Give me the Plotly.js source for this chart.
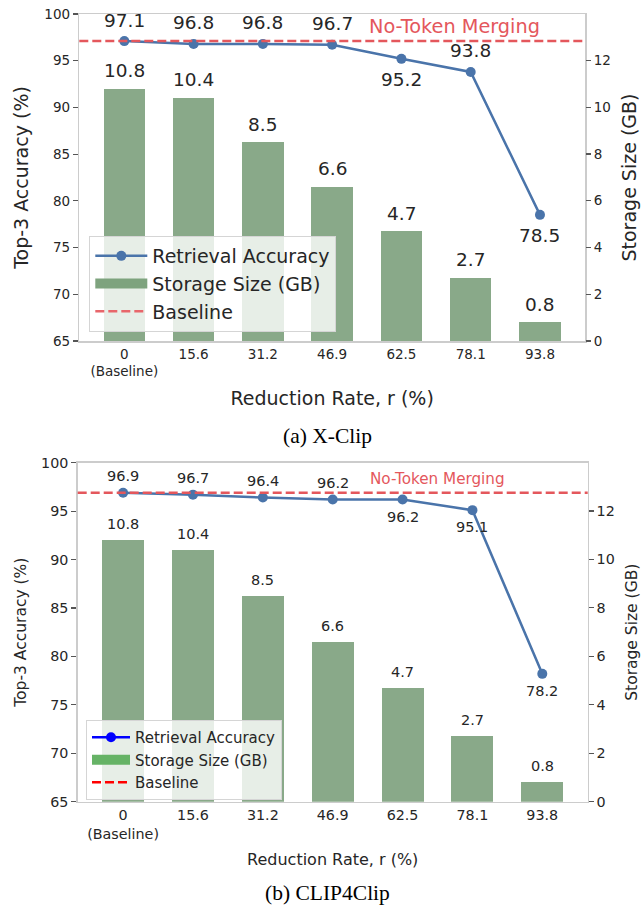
<!DOCTYPE html>
<html>
<head>
<meta charset="utf-8">
<script src="https://cdn.plot.ly/plotly-3.0.1.min.js"></script>
<style>
  html, body { margin: 0; padding: 0; background: #ffffff; }
  #chart { width: 641px; height: 909px; }
</style>
</head>
<body>
<div id="chart"></div>
<script>
// Reduction rate categories (x axis) and their tick labels
const reductionRates = ['0', '15.6', '31.2', '46.9', '62.5', '78.1', '93.8'];
const tickLabels = ['0<br>(Baseline)', '15.6', '31.2', '46.9', '62.5', '78.1', '93.8'];

// Storage size (GB) per reduction rate, same for both models
const storageGB = [10.8, 10.4, 8.5, 6.6, 4.7, 2.7, 0.8];

// Top-3 retrieval accuracy (%) per reduction rate
const accXClip = [97.1, 96.8, 96.8, 96.7, 95.2, 93.8, 78.5];
const accClip4Clip = [96.9, 96.7, 96.4, 96.2, 96.2, 95.1, 78.2];

// Accuracy without token merging
const baselineXClip = 97.1;
const baselineClip4Clip = 96.9;

const idx = reductionRates.map((_, i) => i);

const W = 641, H = 909;
const px = v => v / W;
const py = v => 1 - v / H;

const TEXT = '#262626';
const SPINE = '#cccccc';
const BAR = '#89a989';
const LINE = '#4a74aa';
const RED = '#e4575c';

// Per-panel drawing options
const panels = [
  {
    acc: accXClip, base: baselineXClip,
    xa: 'x', ya: 'y', yb: 'y2', legend: 'legend',
    labelFont: 18.5, noteFont: 19.3, barShift: 18, accShift: 21, noteShift: 15,
    below: [false, false, false, false, true, false, true],
    legendColors: { line: LINE, patch: '#7ea37e', dash: '#e8666b' }
  },
  {
    acc: accClip4Clip, base: baselineClip4Clip,
    xa: 'x2', ya: 'y3', yb: 'y4', legend: 'legend2',
    labelFont: 14.5, noteFont: 15.2, barShift: 16, accShift: 17, noteShift: 14,
    below: [false, false, false, false, true, true, true],
    legendColors: { line: '#0000ff', patch: '#66b366', dash: '#ff0000' }
  }
];

const traces = [];
const annotations = [];
const shapes = [];

panels.forEach(p => {
  // storage bars on the right-hand axis
  traces.push({
    type: 'bar', x: idx, y: storageGB, xaxis: p.xa, yaxis: p.yb,
    width: 0.6, marker: { color: BAR, line: { width: 0 } },
    showlegend: false, hoverinfo: 'skip'
  });
  // accuracy line
  traces.push({
    type: 'scatter', mode: 'lines+markers', x: idx, y: p.acc,
    xaxis: p.xa, yaxis: p.ya,
    line: { color: LINE, width: 2.5 }, marker: { color: LINE, size: 10 },
    showlegend: false, hoverinfo: 'skip'
  });
  // legend entries
  traces.push({
    type: 'scatter', mode: 'lines+markers', x: [null], y: [null],
    xaxis: p.xa, yaxis: p.ya, name: 'Retrieval Accuracy', legend: p.legend,
    line: { color: p.legendColors.line, width: 2.5 },
    marker: { color: p.legendColors.line, size: 10 }
  });
  traces.push({
    type: 'scatter', mode: 'lines', x: [null], y: [null],
    xaxis: p.xa, yaxis: p.ya, name: 'Storage Size (GB)', legend: p.legend,
    line: { color: p.legendColors.patch, width: 13 }
  });
  traces.push({
    type: 'scatter', mode: 'lines', x: [null], y: [null],
    xaxis: p.xa, yaxis: p.ya, name: 'Baseline', legend: p.legend,
    line: { color: p.legendColors.dash, width: 2.5, dash: '9px,4px' }
  });

  // baseline across the full width
  shapes.push({
    type: 'line', xref: p.xa + ' domain', x0: 0, x1: 1,
    yref: p.ya, y0: p.base, y1: p.base,
    line: { color: RED, width: 2.5, dash: '9px,4px' }
  });
  annotations.push({
    xref: p.xa, yref: p.ya, x: 3.5, y: p.base, xanchor: 'left', yanchor: 'middle',
    yshift: p.noteShift, text: 'No-Token Merging', showarrow: false,
    font: { size: p.noteFont, color: RED }
  });

  // value labels
  storageGB.forEach((v, i) => {
    annotations.push({
      xref: p.xa, yref: p.yb, x: i, y: v, yanchor: 'middle', yshift: p.barShift,
      text: v.toFixed(1), showarrow: false, font: { size: p.labelFont, color: TEXT }
    });
  });
  p.acc.forEach((v, i) => {
    annotations.push({
      xref: p.xa, yref: p.ya, x: i, y: v, yanchor: 'middle',
      yshift: p.below[i] ? -p.accShift : p.accShift,
      text: v.toFixed(1), showarrow: false, font: { size: p.labelFont, color: TEXT }
    });
  });
});

// sub-figure captions
annotations.push({
  xref: 'paper', yref: 'paper', x: px(327), y: py(436), xanchor: 'center', yanchor: 'middle',
  text: '(a) X-Clip', showarrow: false,
  font: { family: 'Liberation Serif', size: 21.5, color: '#000000' }
});
annotations.push({
  xref: 'paper', yref: 'paper', x: px(327), y: py(893), xanchor: 'center', yanchor: 'middle',
  text: '(b) CLIP4Clip', showarrow: false,
  font: { family: 'Liberation Serif', size: 21.5, color: '#000000' }
});

function xAxis(domain, anchor, tickSize, titleSize) {
  return {
    domain, anchor, range: [-0.65, 6.65],
    tickmode: 'array', tickvals: idx, ticktext: tickLabels, tickangle: 0,
    ticks: '', tickfont: { size: tickSize, color: TEXT },
    showline: true, mirror: true, linecolor: SPINE, linewidth: 1.5,
    showgrid: false, zeroline: false, fixedrange: true,
    title: { text: 'Reduction Rate, r (%)', font: { size: titleSize, color: TEXT }, standoff: 13 }
  };
}
function leftAxis(domain, anchor, tickSize, titleSize) {
  return {
    domain, anchor, range: [65, 100], tickmode: 'linear', tick0: 65, dtick: 5,
    ticks: 'outside', ticklen: 5, tickwidth: 1.2, tickcolor: '#555555',
    tickfont: { size: tickSize, color: TEXT },
    showline: true, mirror: true, linecolor: SPINE, linewidth: 1.5,
    showgrid: false, zeroline: false, fixedrange: true,
    title: { text: 'Top-3 Accuracy (%)', font: { size: titleSize, color: TEXT }, standoff: 10 }
  };
}
function rightAxis(overlay, anchor, tickSize, titleSize) {
  return {
    overlaying: overlay, anchor, side: 'right', range: [0, 13.99],
    tickmode: 'linear', tick0: 0, dtick: 2,
    ticks: 'outside', ticklen: 5, tickwidth: 1.2, tickcolor: '#555555',
    tickfont: { size: tickSize, color: TEXT },
    showline: false, showgrid: false, zeroline: false, fixedrange: true,
    title: { text: 'Storage Size (GB)', font: { size: titleSize, color: TEXT }, standoff: 12 }
  };
}

const layout = {
  width: W, height: H,
  margin: { l: 0, r: 0, t: 0, b: 0 },
  paper_bgcolor: '#ffffff', plot_bgcolor: '#ffffff',
  font: { family: 'DejaVu Sans', color: TEXT },
  xaxis: xAxis([px(79.3), px(585)], 'y', 13.5, 19),
  yaxis: leftAxis([py(341), py(14)], 'x', 13.5, 19),
  yaxis2: rightAxis('y', 'x', 13.5, 19),
  xaxis2: xAxis([px(77.7), px(587.7)], 'y3', 14.3, 16),
  yaxis3: leftAxis([py(801.7), py(462.7)], 'x2', 14.3, 15.5),
  yaxis4: rightAxis('y3', 'x2', 14.3, 15.5),
  legend: {
    x: px(89.3), y: py(236), xanchor: 'left', yanchor: 'top', itemwidth: 52,
    bgcolor: 'rgba(255,255,255,0.8)', bordercolor: '#d5d5d5', borderwidth: 1,
    font: { size: 19, color: TEXT }
  },
  legend2: {
    x: px(86), y: py(720), xanchor: 'left', yanchor: 'top', itemwidth: 38,
    bgcolor: 'rgba(255,255,255,0.8)', bordercolor: '#d5d5d5', borderwidth: 1,
    font: { size: 15, color: TEXT }
  },
  shapes, annotations,
  bargap: 0
};

Plotly.newPlot('chart', traces, layout, { staticPlot: true, displayModeBar: false });
</script>
</body>
</html>
